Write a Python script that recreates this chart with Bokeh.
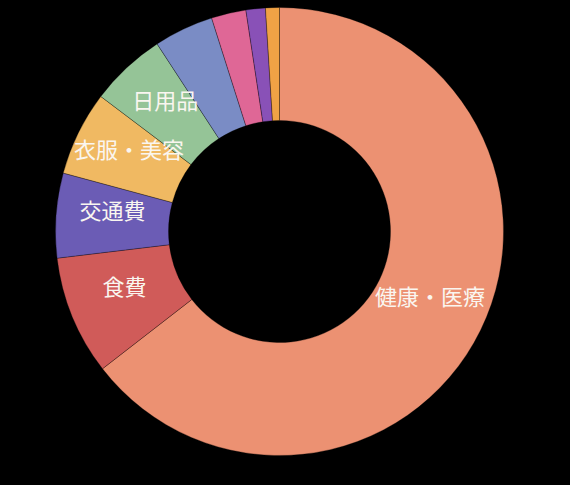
import numpy as np
from bokeh.plotting import figure
from bokeh.models import ColumnDataSource, Range1d
from bokeh.core.properties import value
from bokeh.embed import file_html
from bokeh.resources import INLINE

categories = ["健康・医療", "食費", "交通費", "衣服・美容", "日用品", "娯楽", "交際費", "通信費", "その他"]
shares = [64.5, 8.6, 6.1, 6.1, 5.5, 4.3, 2.5, 1.4, 1.0]
colors = ["#EC9172", "#D05B59", "#6B5CB5", "#F0B962", "#95C497",
          "#7A8CC5", "#DF6796", "#8951B7", "#F0A245"]

W, H = 554, 469
CX, CY = 279, 231          # donut centre in pixels from top-left
R_IN, R_OUT = 111, 224

vals = np.array(shares, dtype=float)
cum = np.concatenate([[0], np.cumsum(vals)]) / vals.sum() * 2 * np.pi
start = np.pi / 2 - cum[:-1]
end = np.pi / 2 - cum[1:]
mid = (start + end) / 2
r_mid = (R_IN + R_OUT) / 2

src = ColumnDataSource(dict(cat=categories, start=start, end=end, color=colors))

# only the larger slices get a label
show = vals / vals.sum() >= 0.05
lab = ColumnDataSource(dict(
    x=list(r_mid * np.cos(mid[show])),
    y=list(r_mid * np.sin(mid[show])),
    t=[c for c, s in zip(categories, show) if s],
))

p = figure(width=W, height=H, output_backend="svg", toolbar_location=None,
           x_range=Range1d(-CX, W - CX), y_range=Range1d(-(H - CY), CY),
           min_border=0)
p.axis.visible = False
p.grid.visible = False
p.outline_line_color = None
p.background_fill_color = "black"
p.border_fill_color = "black"

p.annular_wedge(x=0, y=0, inner_radius=R_IN, outer_radius=R_OUT,
                start_angle="start", end_angle="end", direction="clock",
                fill_color="color", line_color="black", line_width=0.6,
                line_alpha=0.5, source=src)

p.text(x="x", y="y", text="t", source=lab, text_color="#FAF6F0",
       text_font=value("Noto Sans CJK JP"), text_font_size="22px",
       text_align="center", text_baseline="middle", y_offset=-10)

html = file_html(p, INLINE)
html = html.replace("<head>", "<head><style>body{background:#000;}</style>", 1)
open("out.html", "w").write(html)
